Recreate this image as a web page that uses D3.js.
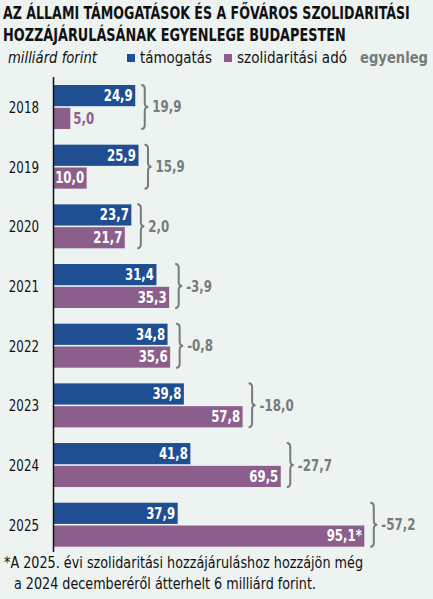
<!DOCTYPE html>
<html><head><meta charset="utf-8">
<script src="https://cdn.jsdelivr.net/npm/d3@7"></script>
<style>
html,body{margin:0;padding:0;background:#edf3f1;}
svg{display:block;}
text{font-family:"DejaVu Sans Condensed","Liberation Sans Narrow","Open Sans",sans-serif;font-stretch:condensed;}
</style></head>
<body>
<script>
const years = ["2018","2019","2020","2021","2022","2023","2024","2025"];
const tamogatas = [24.9, 25.9, 23.7, 31.4, 34.8, 39.8, 41.8, 37.9];
const szolidaritasi = [5.0, 10.0, 21.7, 35.3, 35.6, 57.8, 69.5, 95.1];
const egyenleg = [19.9, 15.9, 2.0, -3.9, -0.8, -18.0, -27.7, -57.2];
const seriesNames = ["támogatás", "szolidaritási adó"];
const titleLines = ["AZ ÁLLAMI TÁMOGATÁSOK ÉS A FŐVÁROS SZOLIDARITÁSI", "HOZZÁJÁRULÁSÁNAK EGYENLEGE BUDAPESTEN"];
const unitLabel = "milliárd forint";
const balanceLabel = "egyenleg";
const footnote = ["*A 2025. évi szolidaritási hozzájáruláshoz hozzájön még", "a 2024 decemberéről átterhelt 6 milliárd forint."];

const W = 433, H = 599;
const BLUE = "#1f4e93", PURPLE = "#8c5e8b", GRAY = "#767b7c";
const fmt = v => d3.format(".1f")(v).replace(".", ",").replace("−", "-");

function narrow(sel, f) {
  sel.each(function() {
    const l = this.getComputedTextLength();
    this.setAttribute("textLength", l * f);
    this.setAttribute("lengthAdjust", "spacingAndGlyphs");
  });
  return sel;
}
function fit(sel, w) {
  sel.attr("textLength", w).attr("lengthAdjust", "spacingAndGlyphs");
  return sel;
}

const svg = d3.select("body").append("svg").attr("width", W).attr("height", H);
svg.append("rect").attr("width", W).attr("height", H).attr("fill", "#edf3f1");

// title (horizontally scaled to the reference width)
const titleW = [407, 343];
svg.selectAll("text.title").data(titleLines).join("text")
  .attr("class", "title")
  .attr("x", 0).attr("y", 0)
  .attr("font-size", 18).attr("font-weight", "bold").attr("fill", "#111")
  .text(d => d)
  .each(function(d, i) {
    const l = this.getComputedTextLength();
    const sx = titleW[i] / l;
    this.setAttribute("transform", `translate(3,${19 + i * 21.5}) scale(${sx},1)`);
  });

// legend
fit(svg.append("text").attr("x", 8).attr("y", 62.5).attr("font-size", 15.5)
  .attr("font-style", "italic").attr("fill", "#111").text(unitLabel), 89);
const legX = [127, 224];
const legW = [72, 110];
const legColors = [BLUE, PURPLE];
seriesNames.forEach((n, i) => {
  svg.append("rect").attr("x", legX[i]).attr("y", 54).attr("width", 8).attr("height", 8).attr("fill", legColors[i]);
  fit(svg.append("text").attr("x", legX[i] + 13).attr("y", 62.5).attr("font-size", 15.5).attr("fill", "#111").text(n), legW[i]);
});
fit(svg.append("text").attr("x", 428).attr("y", 62.5).attr("text-anchor", "end").attr("font-size", 16)
  .attr("font-weight", "bold").attr("fill", GRAY).text(balanceLabel), 68);

// scales
const x = d3.scaleLinear().domain([0, 95.1]).range([54, 364.3]);
const y = d3.scaleBand().domain(years).range([85, 546.7]).paddingInner(0.263).paddingOuter(0);
const ys = d3.scaleBand().domain([0, 1]).range([0, y.bandwidth()]).paddingInner(0.07);

const rows = years.map((yr, i) => ({yr, vals: [tamogatas[i], szolidaritasi[i]], bal: egyenleg[i]}));

const g = svg.append("g");
const row = g.selectAll("g.row").data(rows).join("g").attr("class", "row")
  .attr("transform", d => `translate(0,${y(d.yr)})`);

narrow(row.append("text").attr("x", 39).attr("y", y.bandwidth() / 2 + 6)
  .attr("text-anchor", "end").attr("font-size", 16.5).attr("fill", "#111").text(d => d.yr), 0.8);

row.selectAll("rect.bar").data(d => d.vals.map((v, k) => ({v, k}))).join("rect")
  .attr("class", "bar")
  .attr("x", x(0)).attr("y", d => ys(d.k))
  .attr("width", d => x(d.v) - x(0)).attr("height", ys.bandwidth())
  .attr("fill", d => legColors[d.k]);

const vals = row.selectAll("text.val").data(d => d.vals.map((v, k) => ({v, k}))).join("text")
  .attr("class", "val")
  .attr("y", d => ys(d.k) + ys.bandwidth() / 2 + 5.3)
  .attr("font-size", 15).attr("font-weight", "bold")
  .text(d => fmt(d.v) + (d.k === 1 && d.v === 95.1 ? "*" : ""));
narrow(vals, 0.87);
vals.each(function(d) {
  const tw = +this.getAttribute("textLength");
  const inside = x(d.v) - x(0) > 25;
  d.outEnd = inside ? x(d.v) : x(d.v) + 3 + tw;
  d3.select(this)
    .attr("x", inside ? x(d.v) - 2.5 : x(d.v) + 3)
    .attr("text-anchor", inside ? "end" : "start")
    .attr("fill", inside ? "#fff" : legColors[d.k]);
});

// braces
row.each(function(d) {
  const sel = d3.select(this);
  const ends = sel.selectAll("text.val").data().map(e => e.outEnd);
  const end = Math.max(x(d.vals[0]), x(d.vals[1]), ...ends);
  const x0 = end + 6, w = 3.5, t = 3.5;
  const y1 = 0, y2 = y.bandwidth(), ym = y.bandwidth() / 2, r = 4;
  const p = `M${x0},${y1} Q${x0 + w},${y1} ${x0 + w},${y1 + r} L${x0 + w},${ym - r} Q${x0 + w},${ym} ${x0 + w + t},${ym} Q${x0 + w},${ym} ${x0 + w},${ym + r} L${x0 + w},${y2 - r} Q${x0 + w},${y2} ${x0},${y2}`;
  sel.append("path").attr("d", p).attr("fill", "none").attr("stroke", GRAY).attr("stroke-width", 2);
  narrow(sel.append("text").attr("x", x0 + w + t + 4).attr("y", ym + 5.5).attr("font-size", 15.5)
    .attr("font-weight", "bold").attr("fill", GRAY).text(fmt(d.bal)), 0.85);
});

// axis line
svg.append("line").attr("x1", 53.5).attr("x2", 53.5).attr("y1", 77).attr("y2", 552)
  .attr("stroke", "#111").attr("stroke-width", 1.5);

// footnote
svg.selectAll("text.fn").data(footnote).join("text").attr("class", "fn")
  .attr("x", (d, i) => i === 0 ? 4 : 14).attr("y", (d, i) => 568 + i * 21)
  .attr("font-size", 15.5).attr("fill", "#111")
  .attr("textLength", (d, i) => i === 0 ? 359 : 302).attr("lengthAdjust", "spacingAndGlyphs")
  .text(d => d);
</script>
</body></html>
